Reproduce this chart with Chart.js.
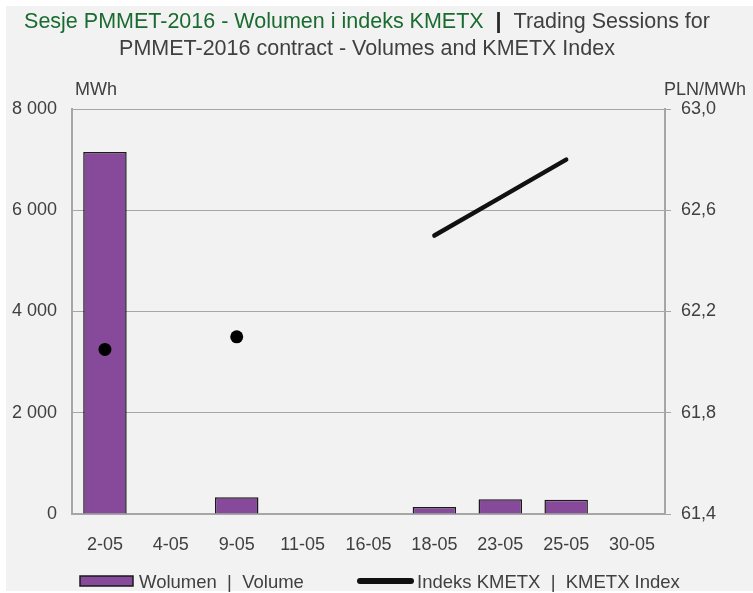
<!DOCTYPE html>
<html><head><meta charset="utf-8">
<script src="https://cdn.jsdelivr.net/npm/chart.js@4.4.1/dist/chart.umd.min.js"></script>
<style>html,body{margin:0;padding:0;background:#fff;overflow:hidden;} #wrap{position:absolute;left:0;top:0;width:753px;height:593px;}</style>
</head><body><div id="wrap"><canvas id="c" width="753" height="593"></canvas></div>
<script>
const categories = ['2-05','4-05','9-05','11-05','16-05','18-05','23-05','25-05','30-05'];
const volumes = [7150, null, 330, null, null, 140, 290, 280, null];
const kmetx = [62.05, null, 62.10, null, null, 62.50, 62.65, 62.80, null];
const leftTicks = [0, 2000, 4000, 6000, 8000];
const rightTicks = [61.4, 61.8, 62.2, 62.6, 63.0];
const titleGreen = 'Sesje PMMET-2016 - Wolumen i indeks KMETX';
const titleSep = '  |  ';
const titleGray1 = 'Trading Sessions for';
const titleLine2 = 'PMMET-2016 contract - Volumes and KMETX Index';
const leftUnit = 'MWh';
const rightUnit = 'PLN/MWh';
const legendBar = 'Wolumen  |  Volume';
const legendLine = 'Indeks KMETX  |  KMETX Index';

const FONT = '"Liberation Sans", Arial, sans-serif';
const TXT = '#404040';
const GRID = '#a6a6a6';

const decor = {
  id: 'decor',
  beforeDraw(chart) {
    const ctx = chart.ctx;
    ctx.save();
    ctx.fillStyle = '#ffffff';
    ctx.fillRect(0, 0, 753, 593);
    ctx.fillStyle = '#f2f2f2';
    ctx.fillRect(6, 6, 747, 585);
    ctx.restore();
  },
  afterDraw(chart) {
    const ctx = chart.ctx;
    ctx.save();
    const TF = '21.5px ' + FONT;
    const TFB = 'bold 21.5px ' + FONT;
    ctx.textBaseline = 'alphabetic';
    ctx.font = TF;
    const w1 = ctx.measureText(titleGreen).width;
    ctx.font = TFB;
    const w2 = ctx.measureText(titleSep).width;
    ctx.font = TF;
    const w3 = ctx.measureText(titleGray1).width;
    let x = 367 - (w1 + w2 + w3) / 2;
    ctx.textAlign = 'left';
    ctx.fillStyle = '#1a6b30';
    ctx.fillText(titleGreen, x, 28);
    x += w1;
    ctx.font = TFB;
    ctx.fillStyle = '#262626';
    ctx.fillText(titleSep, x, 28);
    x += w2;
    ctx.font = TF;
    ctx.fillStyle = TXT;
    ctx.fillText(titleGray1, x, 28);
    ctx.textAlign = 'center';
    ctx.fillText(titleLine2, 367, 55);
    // unit labels
    ctx.font = '18px ' + FONT;
    ctx.textAlign = 'center';
    ctx.fillText(leftUnit, 96, 95);
    ctx.textAlign = 'right';
    ctx.fillText(rightUnit, 746, 95);
    // legend
    ctx.font = '18.5px ' + FONT;
    ctx.fillStyle = '#874a9b';
    ctx.fillRect(80, 576, 53, 10);
    ctx.strokeStyle = '#1a1a1a';
    ctx.lineWidth = 1.5;
    ctx.strokeRect(80, 576, 53, 10);
    ctx.fillStyle = TXT;
    ctx.textAlign = 'left';
    ctx.fillText(legendBar, 139, 588);
    ctx.strokeStyle = '#111111';
    ctx.lineWidth = 6;
    ctx.lineCap = 'round';
    ctx.beginPath();
    ctx.moveTo(360, 581);
    ctx.lineTo(411, 581);
    ctx.stroke();
    ctx.fillText(legendLine, 417, 588);
    ctx.restore();
  }
};

function isolated(ctx) {
  const i = ctx.dataIndex;
  const d = ctx.dataset.data;
  if (d[i] == null) return false;
  const prev = i > 0 ? d[i - 1] : null;
  const next = i < d.length - 1 ? d[i + 1] : null;
  return prev == null && next == null;
}

new Chart(document.getElementById('c'), {
  data: {
    labels: categories,
    datasets: [
      {
        type: 'line',
        label: legendLine,
        data: kmetx,
        yAxisID: 'y1',
        borderColor: '#111111',
        backgroundColor: '#111111',
        borderWidth: 4.5,
        borderCapStyle: 'round',
        spanGaps: false,
        tension: 0,
        pointRadius: (c) => isolated(c) ? 6.5 : 0,
        pointHoverRadius: 0,
        pointBackgroundColor: '#000000',
        pointBorderWidth: 0,
        order: 0
      },
      {
        type: 'bar',
        label: legendBar,
        data: volumes,
        yAxisID: 'y',
        backgroundColor: '#874a9b',
        borderColor: '#1a1a1a',
        borderWidth: 1.5,
        barPercentage: 0.66,
        categoryPercentage: 1.0,
        order: 1
      }
    ]
  },
  options: {
    responsive: false,
    animation: false,
    devicePixelRatio: 1,
    layout: { padding: { top: 109, bottom: 0, left: 0, right: 0 } },
    plugins: { legend: { display: false }, title: { display: false }, tooltip: { enabled: false } },
    scales: {
      x: {
        grid: { display: false },
        border: { display: true, color: GRID, width: 2 },
        ticks: { color: TXT, font: { family: FONT, size: 18 }, padding: 12, maxRotation: 0, autoSkip: false },
        afterFit(s) { s.height = 79; }
      },
      y: {
        position: 'left',
        min: 0, max: 8000,
        afterBuildTicks(s) { s.ticks = leftTicks.map(v => ({ value: v })); },
        grid: { color: GRID, lineWidth: 1, drawTicks: false },
        border: { display: true, color: GRID, width: 2 },
        ticks: {
          color: TXT, font: { family: FONT, size: 18 }, padding: 15,
          callback: (v) => String(v).replace(/\B(?=(\d{3})+(?!\d))/g, ' ')
        },
        afterFit(s) { s.width = 72; }
      },
      y1: {
        position: 'right',
        min: 61.4, max: 63.0,
        afterBuildTicks(s) { s.ticks = rightTicks.map(v => ({ value: v })); },
        grid: { drawOnChartArea: false, drawTicks: true, tickLength: 6, color: GRID, lineWidth: 1 },
        border: { display: true, color: GRID, width: 2 },
        ticks: {
          color: TXT, font: { family: FONT, size: 18 }, padding: 10,
          callback: (v) => Number(v).toFixed(1).replace('.', ',')
        },
        afterFit(s) { s.width = 88; }
      }
    }
  },
  plugins: [decor]
});
</script>
</body></html>
